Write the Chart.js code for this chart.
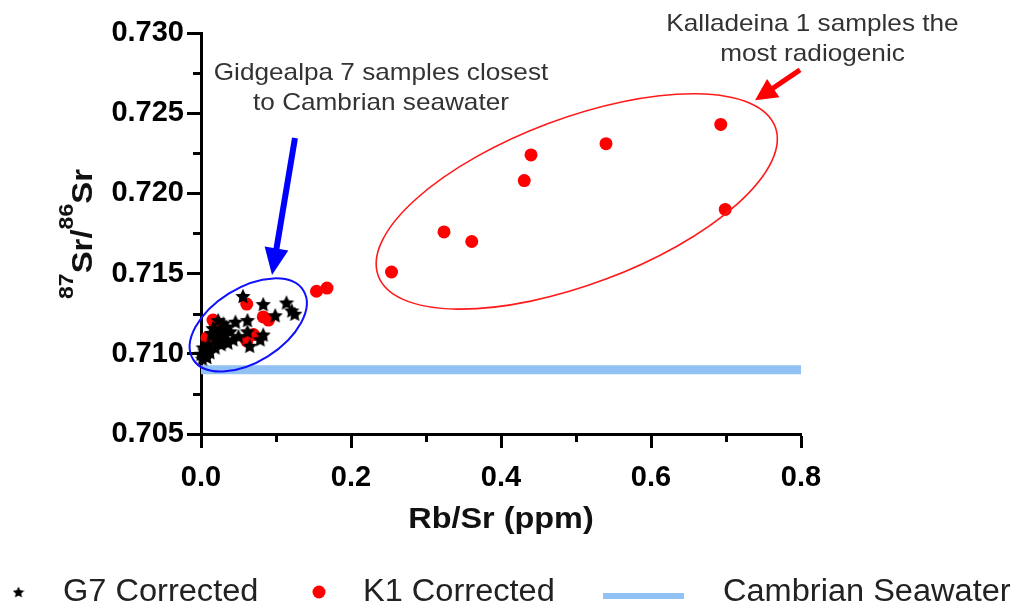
<!DOCTYPE html>
<html>
<head>
<meta charset="utf-8">
<script src="https://cdn.jsdelivr.net/npm/chart.js@4.4.1/dist/chart.umd.min.js"></script>
<style>
  html, body { margin: 0; padding: 0; background: #fff; }
  #wrap { width: 1011px; height: 606px; }
</style>
</head>
<body>
<div id="wrap"><canvas id="srChart" width="1011" height="606"></canvas></div>
<script>
// G7 Corrected (Gidgealpa 7) - Rb/Sr vs 87Sr/86Sr
const g7Rb = [0.056, 0.083, 0.114, 0.121, 0.125, 0.099, 0.062, 0.046, 0.062, 0.083, 0.079, 0.065, 0.050, 0.039, 0.030, 0.025, 0.032, 0.019, 0.028, 0.010, 0.019, 0.005, 0.012, 0.000, 0.002, 0.008, 0.034, 0.023, 0.043, 0.003, 0.014, 0.022, 0.016, 0.007, 0.036, 0.027]
const g7Sr = [0.7136, 0.7131, 0.7132, 0.7127, 0.7125, 0.7124, 0.7121, 0.7120, 0.7114, 0.7112, 0.7109, 0.7105, 0.7111, 0.7114, 0.7119, 0.7115, 0.7112, 0.7109, 0.7109, 0.7106, 0.7104, 0.7102, 0.7101, 0.7100, 0.7097, 0.7098, 0.7117, 0.7121, 0.7109, 0.7104, 0.7113, 0.7112, 0.7116, 0.7102, 0.7107, 0.7106]

// K1 Corrected (Kalladeina 1)
const k1Rb = [0.008, 0.016, 0.019, 0.061, 0.061, 0.070, 0.083, 0.090, 0.154, 0.168, 0.254, 0.324, 0.361, 0.431, 0.440, 0.540, 0.693, 0.699]
const k1Sr = [0.7110, 0.7121, 0.7117, 0.7131, 0.7108, 0.7112, 0.7123, 0.7121, 0.7139, 0.7141, 0.7151, 0.7176, 0.7170, 0.7208, 0.7224, 0.7231, 0.7243, 0.7190]

// Cambrian seawater reference
const seawaterRb = [0.0, 0.8]
const seawaterSr = [0.709, 0.709]

// axis ticks
const xTicks = [0.0, 0.2, 0.4, 0.6, 0.8]
const xMinorTicks = [0.1, 0.3, 0.5, 0.7]
const yTicks = [0.705, 0.710, 0.715, 0.720, 0.725, 0.730]
const yMinorTicks = [0.7075, 0.7125, 0.7175, 0.7225, 0.7275]

const FONT = "'Liberation Sans', Arial, sans-serif"

// callouts, placed in data units
const notes = {
  ellipses: [
    { x: 0.063, y: 0.7118, rx: 65, ry: 37, angle: -32, color: "#1010ff", width: 2 },
    { x: 0.501, y: 0.7195, rx: 212, ry: 83, angle: -20.6, color: "#ff1a1a", width: 1.6 },
  ],
  arrows: [
    { from: [0.1253, 0.72345], to: [0.0947, 0.71491], color: "#0000ff", shaft: 6, head: 27, half: 12 },
    { from: [0.7987, 0.7277], to: [0.7387, 0.7258], color: "#ff0000", shaft: 5, head: 22, half: 11 },
  ],
  labels: [
    { x: 0.24, y: 0.7271, text: "Gidgealpa 7 samples closest" },
    { x: 0.24, y: 0.7252, text: "to Cambrian seawater" },
    { x: 0.8153, y: 0.73014, text: "Kalladeina 1 samples the" },
    { x: 0.8153, y: 0.72825, text: "most radiogenic" },
  ],
}

function makeStar(size) {
  const c = document.createElement("canvas")
  c.width = size
  c.height = size
  const g = c.getContext("2d")
  const r = size / 2
  const ri = r * 0.48
  g.beginPath()
  for (let i = 0; i < 10; i++) {
    const rad = i % 2 ? ri : r
    const a = -Math.PI / 2 + (i * Math.PI) / 5
    g.lineTo(r + rad * Math.cos(a), r + rad * Math.sin(a) + r * 0.1)
  }
  g.closePath()
  g.fillStyle = "#000"
  g.fill()
  return c
}

const starPoint = makeStar(16)
const starLegend = makeStar(12)

function drawArrow(ctx, x1, y1, x2, y2, a) {
  const ang = Math.atan2(y2 - y1, x2 - x1)
  const bx = x2 - a.head * Math.cos(ang)
  const by = y2 - a.head * Math.sin(ang)
  ctx.strokeStyle = a.color
  ctx.fillStyle = a.color
  ctx.lineWidth = a.shaft
  ctx.lineCap = "butt"
  ctx.beginPath()
  ctx.moveTo(x1, y1)
  ctx.lineTo(bx + Math.cos(ang) * 2, by + Math.sin(ang) * 2)
  ctx.stroke()
  ctx.beginPath()
  ctx.moveTo(x2, y2)
  ctx.lineTo(bx + a.half * Math.sin(ang), by - a.half * Math.cos(ang))
  ctx.lineTo(bx - a.half * Math.sin(ang), by + a.half * Math.cos(ang))
  ctx.closePath()
  ctx.fill()
}

function stretchText(ctx, text, x, y, sx, align) {
  ctx.save()
  ctx.translate(x, y)
  ctx.scale(sx, 1)
  ctx.textAlign = align
  ctx.fillText(text, 0, 0)
  ctx.restore()
}

// minor tick marks on both axes
const minorTicks = {
  id: "minorTicks",
  beforeDatasetsDraw(chart) {
    const { ctx, chartArea, scales } = chart
    ctx.save()
    ctx.strokeStyle = "#000"
    ctx.lineWidth = 3
    ctx.beginPath()
    yMinorTicks.forEach((v) => {
      const py = Math.round(scales.y.getPixelForValue(v)) + 0.5
      ctx.moveTo(chartArea.left, py)
      ctx.lineTo(chartArea.left - 8, py)
    })
    xMinorTicks.forEach((v) => {
      const px = Math.round(scales.x.getPixelForValue(v)) + 0.5
      ctx.moveTo(px, chartArea.bottom)
      ctx.lineTo(px, chartArea.bottom + 8)
    })
    ctx.stroke()
    ctx.restore()
  },
}

// axis titles (with superscripts), ellipses, arrows and notes
const callouts = {
  id: "callouts",
  afterDatasetsDraw(chart) {
    const { ctx, scales } = chart
    const px = (v) => scales.x.getPixelForValue(v)
    const py = (v) => scales.y.getPixelForValue(v)
    ctx.save()

    notes.ellipses.forEach((e) => {
      ctx.beginPath()
      ctx.ellipse(px(e.x), py(e.y), e.rx, e.ry, (e.angle * Math.PI) / 180, 0, Math.PI * 2)
      ctx.strokeStyle = e.color
      ctx.lineWidth = e.width
      ctx.stroke()
    })

    notes.arrows.forEach((a) => {
      drawArrow(ctx, px(a.from[0]), py(a.from[1]), px(a.to[0]), py(a.to[1]), a)
    })

    ctx.fillStyle = "#333"
    ctx.font = "24px " + FONT
    ctx.textBaseline = "alphabetic"
    notes.labels.forEach((l) => {
      stretchText(ctx, l.text, px(l.x), py(l.y), 1.09, "center")
    })

    // x title
    ctx.fillStyle = "#111"
    ctx.font = "bold 30px " + FONT
    stretchText(ctx, "Rb/Sr (ppm)", (chart.chartArea.left + chart.chartArea.right) / 2, 528, 1.08, "center")

    // y title: 87Sr/86Sr
    const parts = [
      { t: "87", sup: true },
      { t: "Sr/", sup: false },
      { t: "86", sup: true },
      { t: "Sr", sup: false },
    ]
    const big = "bold 30px " + FONT
    const small = "bold 21px " + FONT
    let total = 0
    parts.forEach((p) => {
      ctx.font = p.sup ? small : big
      p.w = ctx.measureText(p.t).width
      total += p.w
    })
    ctx.translate(92, 299)
    ctx.rotate(-Math.PI / 2)
    ctx.scale(130 / total, 1)
    ctx.textAlign = "left"
    let cx = 0
    parts.forEach((p) => {
      ctx.font = p.sup ? small : big
      ctx.fillText(p.t, cx, p.sup ? -19 : 0)
      cx += p.w
    })
    ctx.restore()
  },
}

// legend row under the plot
const bottomLegend = {
  id: "bottomLegend",
  afterDraw(chart) {
    const { ctx } = chart
    const ds = chart.data.datasets
    const my = 592
    const base = 601
    ctx.save()
    ctx.drawImage(starLegend, 18.5 - starLegend.width / 2, my - starLegend.height / 2)
    ctx.fillStyle = ds[1].backgroundColor
    ctx.beginPath()
    ctx.arc(319, my, 6.5, 0, Math.PI * 2)
    ctx.fill()
    ctx.strokeStyle = ds[2].borderColor
    ctx.lineWidth = 6
    ctx.beginPath()
    ctx.moveTo(603, 596)
    ctx.lineTo(684, 596)
    ctx.stroke()

    ctx.fillStyle = "#222"
    ctx.font = "31px " + FONT
    ctx.textBaseline = "alphabetic"
    stretchText(ctx, ds[0].label, 63, base, 1.05, "left")
    stretchText(ctx, ds[1].label, 363, base, 1.05, "left")
    stretchText(ctx, ds[2].label, 723, base, 1.05, "left")
    ctx.restore()
  },
}

const axisFont = { family: FONT, size: 29, weight: "bold" }

const ctx = document.getElementById("srChart").getContext("2d")
const chart = new Chart(ctx, {
  type: "scatter",
  data: {
    datasets: [
      {
        label: "G7 Corrected",
        data: g7Rb.map((x, i) => ({ x: x, y: g7Sr[i] })),
        pointStyle: starPoint,
        pointRadius: 8,
        clip: false,
      },
      {
        label: "K1 Corrected",
        data: k1Rb.map((x, i) => ({ x: x, y: k1Sr[i] })),
        pointStyle: "circle",
        pointRadius: 6.5,
        backgroundColor: "#ff0000",
        borderWidth: 0,
        clip: false,
      },
      {
        label: "Cambrian Seawater",
        data: seawaterRb.map((x, i) => ({ x: x, y: seawaterSr[i] })),
        showLine: true,
        borderColor: "#92c1f4",
        borderWidth: 9,
        borderCapStyle: "butt",
        pointRadius: 0,
      },
    ],
  },
  options: {
    responsive: false,
    animation: false,
    events: [],
    layout: { padding: { top: 33, right: 210, left: 0, bottom: 0 } },
    plugins: {
      legend: { display: false },
      tooltip: { enabled: false },
    },
    scales: {
      x: {
        type: "linear",
        position: "bottom",
        min: 0,
        max: 0.8,
        afterFit: (s) => {
          s.height = 172
        },
        afterBuildTicks: (s) => {
          s.ticks = xTicks.map((v) => ({ value: v }))
        },
        grid: { drawOnChartArea: false, drawTicks: true, tickLength: 14, tickWidth: 3, tickColor: "#000" },
        border: { display: true, color: "#000", width: 3 },
        ticks: {
          color: "#000",
          font: axisFont,
          padding: 13,
          maxRotation: 0,
          autoSkip: false,
          callback: (v) => Number(v).toFixed(1),
        },
      },
      y: {
        type: "linear",
        position: "left",
        min: 0.705,
        max: 0.73,
        afterFit: (s) => {
          s.width = 201
        },
        afterBuildTicks: (s) => {
          s.ticks = yTicks.map((v) => ({ value: v }))
        },
        grid: { drawOnChartArea: false, drawTicks: true, tickLength: 14, tickWidth: 3, tickColor: "#000" },
        border: { display: true, color: "#000", width: 3 },
        ticks: {
          color: "#000",
          font: axisFont,
          padding: 3,
          autoSkip: false,
          callback: (v) => Number(v).toFixed(3),
        },
      },
    },
  },
  plugins: [minorTicks, callouts, bottomLegend],
})
</script>
</body>
</html>
